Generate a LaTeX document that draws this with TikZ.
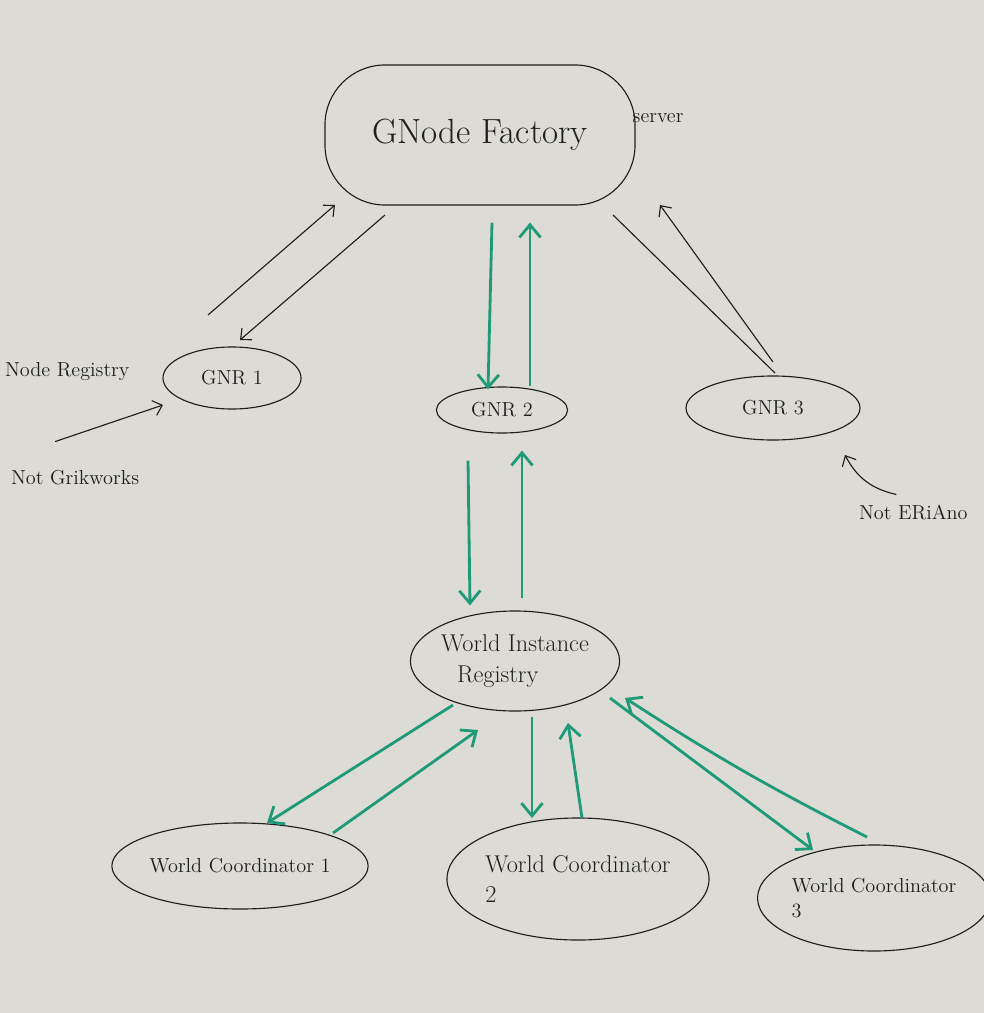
\documentclass[tikz,border=0pt]{standalone}
\usepackage{tikz,xcolor}
\usetikzlibrary{arrows.meta,positioning,shapes.geometric,calc}
\definecolor{paper}{HTML}{DCDBD6}
\definecolor{mk}{HTML}{1F9A78}
\definecolor{pen}{HTML}{1E1E1E}
\tikzset{
  oval/.style={ellipse,draw=pen,line width=0.8pt,inner sep=0pt,align=left,font=\Large,text=pen},
  blob/.style={draw=pen,line width=0.8pt,rounded corners=1.5cm,minimum width=7.75cm,minimum height=3.5cm,font=\Huge,text=pen},
  note/.style={font=\Large,text=pen,inner sep=2pt},
  ar/.style={-{Straight Barb[length=6pt,width=11pt]},line width=0.8pt,draw=pen},
  ln/.style={line width=0.8pt,draw=pen},
  gar/.style={-{Straight Barb[length=9pt,width=15pt]},line width=2pt,draw=mk},
}
\begin{document}
\begin{tikzpicture}[x=0.025cm,y=-0.025cm]
\fill[paper] (0,0) rectangle (984,1013);
\useasboundingbox (0,0) rectangle (984,1013);
\node[blob] (fac) at (480,135) {GNode Factory};
\node[note,right=-0.15cm of fac,yshift=0.42cm] (srv) {server};
\node[oval,minimum width=3.45cm,minimum height=1.55cm] (gnr1) at (232,378) {GNR 1};
\node[oval,minimum width=3.28cm,minimum height=1.15cm] (gnr2) at (502,410) {GNR 2};
\node[oval,minimum width=4.35cm,minimum height=1.6cm] (gnr3) at (773,408) {GNR 3};
\node[oval,font=\LARGE,minimum width=5cm,minimum height=2.5cm] (wir) at (515,661) {World Instance\\\hspace*{0.4cm}Registry};
\node[oval,minimum width=6.1cm,minimum height=2.15cm] (wc1) at (240,866) {World Coordinator 1};
\node[oval,font=\LARGE,minimum width=6.55cm,minimum height=3.05cm] (wc2) at (578,879) {World Coordinator\\2};
\node[oval,minimum width=5.55cm,minimum height=2.65cm] (wc3) at (874,898) {World Coordinator\\3};
\node[note,anchor=west] (nreg) at (2,372) {Node Registry};
\node[note,anchor=west] (ngrik) at (8,478) {Not Grikworks};
\node[note,anchor=west] (neri) at (856,512) {Not ERiAno};
% factory and the registries
\draw[ar] ($(gnr1)+(-24,-63)$) -- ($(fac)+(-145,70)$);
\draw[ar] ($(fac)+(-95,80)$) -- ($(gnr1)+(8,-38)$);
\draw[ln] ($(fac)+(133,80)$) -- ($(gnr3)+(2,-35)$);
\draw[ar] ($(gnr3)+(0,-46)$) -- ($(fac)+(180,70)$);
\draw[gar] ($(fac.south)+(12,17)$) -- ($(gnr2.north)+(-14,3)$);
\draw[gar] ($(gnr2.north)+(28,0)$) -- ($(fac.south)+(50,17)$);
\draw[ar] ($(ngrik.north)+(-20,-26)$) -- ($(gnr1)+(-69,27)$);
\draw[ar] ($(neri.north)+(-17,-7)$) to[bend left=25] ($(gnr3)+(72,47)$);
% registry and coordinators
\draw[gar] ($(gnr2.south)+(-34,27)$) -- ($(wir.north)+(-45,-5)$);
\draw[gar] ($(wir.north)+(7,-12)$) -- ($(gnr2.south)+(20,17)$);
\draw[gar] ($(wir)+(-62,44)$) -- ($(wc1)+(27,-43)$);
\draw[gar] ($(wc1)+(93,-33)$) -- ($(wir)+(-37,69)$);
\draw[gar] ($(wir)+(17,56)$) -- ($(wc2)+(-46,-61)$);
\draw[gar] ($(wc2)+(4,-61)$) -- ($(wir)+(53,62)$);
\draw[gar] ($(wir)+(95,37)$) -- ($(wc3)+(-61,-48)$);
\draw[gar] ($(wc3)+(-7,-61)$) to[bend left=3] ($(wir)+(110,37)$);
\end{tikzpicture}
\end{document}
